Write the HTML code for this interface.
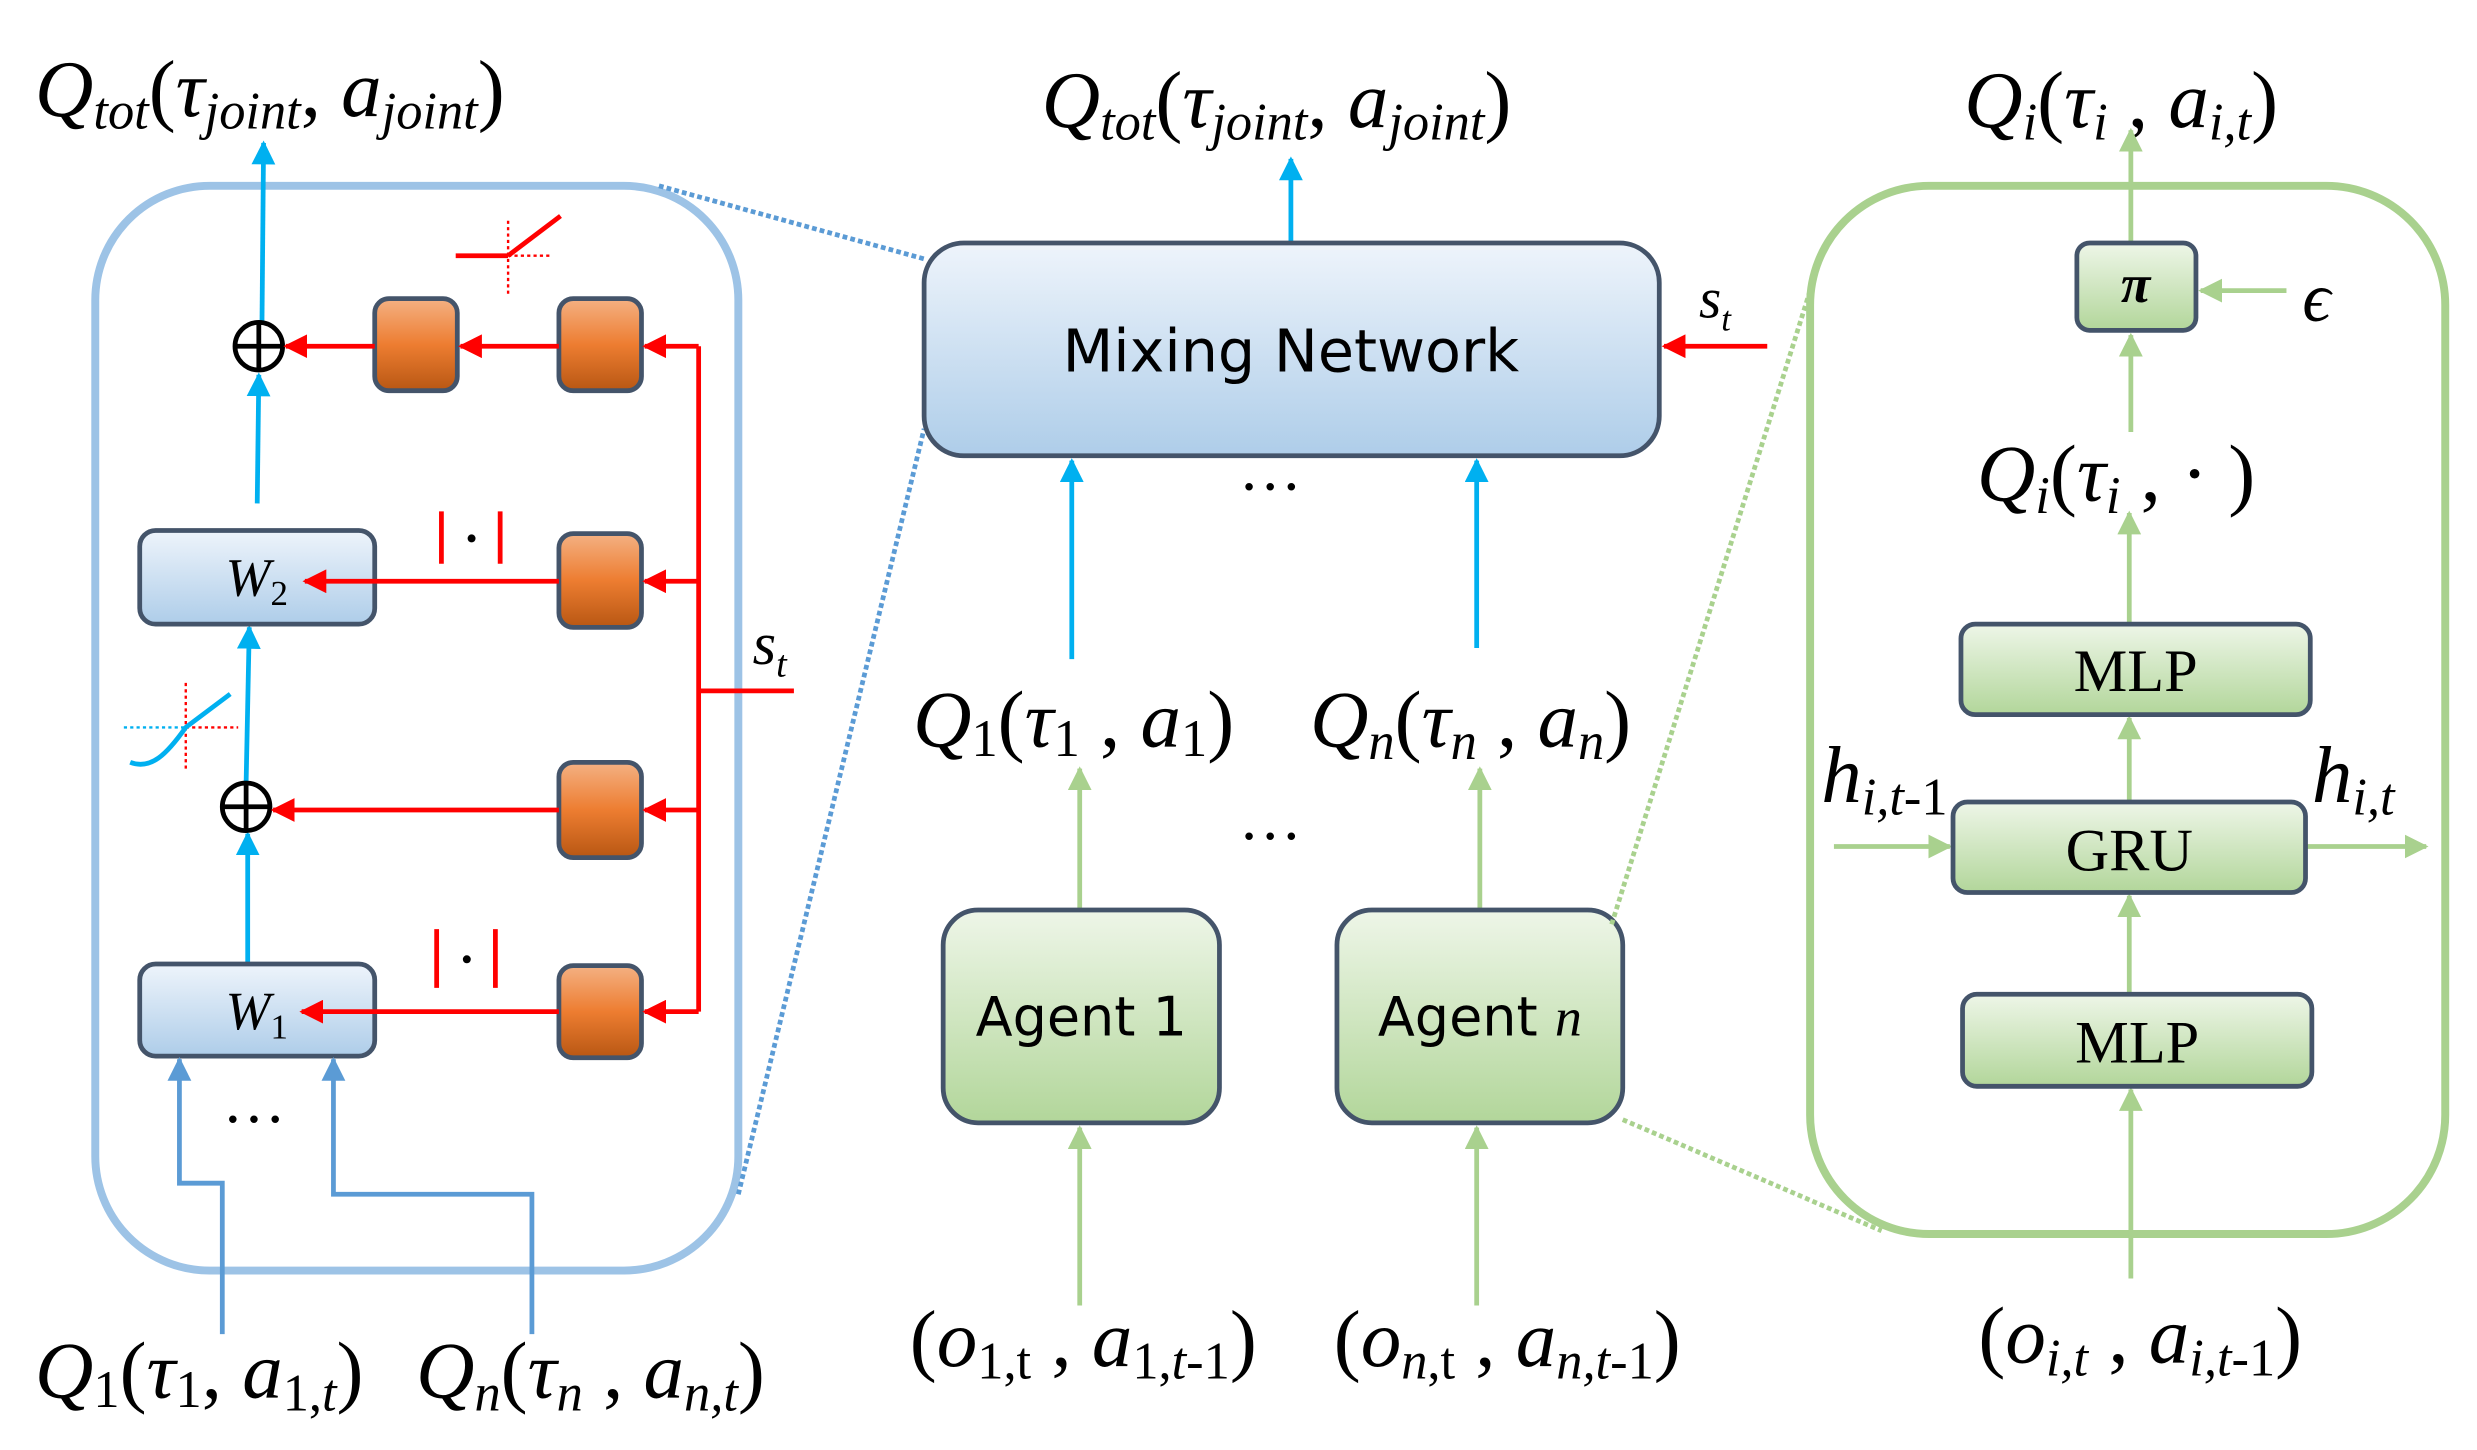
<!DOCTYPE html>
<html><head><meta charset="utf-8"><style>
html,body{margin:0;padding:0;background:#fff;}
svg{display:block;}
text{font-family:"Liberation Serif",serif;}
.m{font-style:italic;font-size:51px;}
.s{font-size:33px;}
</style></head><body>
<svg width="2477" height="1450" viewBox="0 0 1560 913" preserveAspectRatio="none" xmlns="http://www.w3.org/2000/svg">
<defs>
<linearGradient id="og" x1="0" y1="0" x2="0" y2="1"><stop offset="0" stop-color="#f4b183"/><stop offset="0.5" stop-color="#ed7d31"/><stop offset="1" stop-color="#b85713"/></linearGradient>
<linearGradient id="bg" x1="0" y1="0" x2="0" y2="1"><stop offset="0" stop-color="#eef4fb"/><stop offset="1" stop-color="#aecde9"/></linearGradient>
<linearGradient id="gg" x1="0" y1="0" x2="0" y2="1"><stop offset="0" stop-color="#eef6e8"/><stop offset="1" stop-color="#b2d69a"/></linearGradient>
<marker id="ar" viewBox="0 0 10 10" refX="9" refY="5" markerWidth="5" markerHeight="5" orient="auto"><path d="M0,0L10,5L0,10z" fill="#ff0000"/></marker>
<marker id="ab" viewBox="0 0 10 10" refX="9" refY="5" markerWidth="5" markerHeight="5" orient="auto"><path d="M0,0L10,5L0,10z" fill="#00b0f0"/></marker>
<marker id="ad" viewBox="0 0 10 10" refX="9" refY="5" markerWidth="5" markerHeight="5" orient="auto"><path d="M0,0L10,5L0,10z" fill="#5b9bd5"/></marker>
<marker id="ag" viewBox="0 0 10 10" refX="9" refY="5" markerWidth="5" markerHeight="5" orient="auto"><path d="M0,0L10,5L0,10z" fill="#a9d18e"/></marker>
</defs>

<!-- LEFT PANEL -->
<rect x="60" y="117" width="405" height="683" rx="72" fill="none" stroke="#9dc3e6" stroke-width="5"/>
<line x1="415" y1="117" x2="582" y2="163" stroke="#5b9bd5" stroke-width="3" stroke-dasharray="3,2"/>
<line x1="465" y1="752" x2="582" y2="270" stroke="#5b9bd5" stroke-width="3" stroke-dasharray="3,2"/>

<text x="22" y="73" class="m">Q<tspan class="s" dy="8">tot</tspan><tspan dy="-8" font-style="normal">(</tspan>τ<tspan class="s" dy="8">joint</tspan><tspan dy="-8" font-style="normal">, </tspan>a<tspan class="s" dy="8">joint</tspan><tspan dy="-8" font-style="normal">)</tspan></text>

<line x1="165" y1="203" x2="166" y2="90" stroke="#00b0f0" stroke-width="3" marker-end="url(#ab)"/>
<line x1="162" y1="317" x2="163" y2="236" stroke="#00b0f0" stroke-width="3" marker-end="url(#ab)"/>
<line x1="155" y1="493" x2="157" y2="395" stroke="#00b0f0" stroke-width="3" marker-end="url(#ab)"/>
<line x1="156" y1="607" x2="156" y2="525" stroke="#00b0f0" stroke-width="3" marker-end="url(#ab)"/>

<circle cx="163" cy="218" r="15" fill="#fff" stroke="#000" stroke-width="3"/>
<line x1="148" y1="218" x2="178" y2="218" stroke="#000" stroke-width="3"/><line x1="163" y1="203" x2="163" y2="233" stroke="#000" stroke-width="3"/>
<circle cx="155" cy="508" r="15" fill="#fff" stroke="#000" stroke-width="3"/>
<line x1="140" y1="508" x2="170" y2="508" stroke="#000" stroke-width="3"/><line x1="155" y1="493" x2="155" y2="523" stroke="#000" stroke-width="3"/>

<rect x="88" y="334" width="148" height="59" rx="10" fill="url(#bg)" stroke="#44546a" stroke-width="3"/>
<text x="142" y="375" class="m" style="font-size:34px">W<tspan font-style="normal" style="font-size:22px" dy="6">2</tspan></text>
<rect x="88" y="607" width="148" height="58" rx="10" fill="url(#bg)" stroke="#44546a" stroke-width="3"/>
<text x="142" y="648" class="m" style="font-size:34px">W<tspan font-style="normal" style="font-size:22px" dy="6">1</tspan></text>

<g fill="url(#og)" stroke="#44546a" stroke-width="3">
<rect x="236" y="188" width="52" height="58" rx="9"/>
<rect x="352" y="188" width="52" height="58" rx="9"/>
<rect x="352" y="336" width="52" height="59" rx="9"/>
<rect x="352" y="480" width="52" height="60" rx="9"/>
<rect x="352" y="608" width="52" height="58" rx="9"/>
</g>
<g stroke="#ff0000" stroke-width="3" fill="none">
<polyline points="440,218 440,637"/>
<line x1="440" y1="435" x2="500" y2="435"/>
<line x1="440" y1="218" x2="406" y2="218" marker-end="url(#ar)"/>
<line x1="440" y1="366" x2="406" y2="366" marker-end="url(#ar)"/>
<line x1="440" y1="510" x2="406" y2="510" marker-end="url(#ar)"/>
<line x1="440" y1="637" x2="406" y2="637" marker-end="url(#ar)"/>
<line x1="352" y1="218" x2="290" y2="218" marker-end="url(#ar)"/>
<line x1="236" y1="218" x2="180" y2="218" marker-end="url(#ar)"/>
<line x1="352" y1="366" x2="192" y2="366" marker-end="url(#ar)"/>
<line x1="352" y1="510" x2="172" y2="510" marker-end="url(#ar)"/>
<line x1="352" y1="637" x2="190" y2="637" marker-end="url(#ar)"/>
<line x1="278" y1="322" x2="278" y2="355"/><line x1="315" y1="322" x2="315" y2="355"/>
<line x1="275" y1="585" x2="275" y2="622"/><line x1="312" y1="585" x2="312" y2="622"/>
<line x1="287" y1="161" x2="320" y2="161"/><line x1="320" y1="161" x2="353" y2="136"/>
<line x1="320" y1="161" x2="348" y2="161" stroke-width="1.5" stroke-dasharray="2,2"/>
<line x1="320" y1="139" x2="320" y2="186" stroke-width="1.5" stroke-dasharray="2,2"/>
<line x1="117" y1="430" x2="117" y2="485" stroke-width="1.5" stroke-dasharray="2,2"/>
<line x1="117" y1="458" x2="150" y2="458" stroke-width="1.5" stroke-dasharray="2,2"/>
</g>
<circle cx="297" cy="339" r="2.5" fill="#000"/><circle cx="294" cy="604" r="2.5" fill="#000"/>
<line x1="78" y1="458" x2="117" y2="458" stroke="#00b0f0" stroke-width="1.5" stroke-dasharray="2,2"/>
<path d="M82,480 C95,485 105,475 117,458 L145,437" stroke="#00b0f0" stroke-width="3" fill="none"/>
<text x="474" y="418" class="m" style="font-size:38px">s<tspan class="s" style="font-size:24px" dy="8">t</tspan></text>

<polyline points="140,840 140,745 113,745 113,667" stroke="#5b9bd5" stroke-width="3" fill="none" marker-end="url(#ad)"/>
<polyline points="335,840 335,752 210,752 210,667" stroke="#5b9bd5" stroke-width="3" fill="none" marker-end="url(#ad)"/>
<text x="140" y="718" style="font-size:40px">···</text>

<text x="22" y="880" class="m">Q<tspan font-style="normal" class="s" dy="6">1</tspan><tspan dy="-6" font-style="normal">(</tspan>τ<tspan font-style="normal" class="s" dy="6">1</tspan><tspan dy="-6" font-style="normal">, </tspan>a<tspan class="s" dy="8"><tspan font-style="normal">1,</tspan>t</tspan><tspan dy="-8" font-style="normal">)</tspan></text>
<text x="262" y="880" class="m">Q<tspan class="s" dy="8">n</tspan><tspan dy="-8" font-style="normal">(</tspan>τ<tspan class="s" dy="8">n</tspan><tspan dy="-8" font-style="normal"> , </tspan>a<tspan class="s" dy="8">n,t</tspan><tspan dy="-8" font-style="normal">)</tspan></text>

<!-- MIDDLE -->
<text x="656" y="80" class="m">Q<tspan class="s" dy="8">tot</tspan><tspan dy="-8" font-style="normal">(</tspan>τ<tspan class="s" dy="8">joint</tspan><tspan dy="-8" font-style="normal">, </tspan>a<tspan class="s" dy="8">joint</tspan><tspan dy="-8" font-style="normal">)</tspan></text>
<line x1="813" y1="153" x2="813" y2="100" stroke="#00b0f0" stroke-width="3" marker-end="url(#ab)"/>
<rect x="582" y="153" width="463" height="134" rx="25" fill="url(#bg)" stroke="#44546a" stroke-width="3"/>
<text x="813" y="234" text-anchor="middle" style="font-family:'DejaVu Sans',sans-serif;font-size:37px">Mixing Network</text>
<line x1="1113" y1="218" x2="1048" y2="218" stroke="#ff0000" stroke-width="3" marker-end="url(#ar)"/>
<text x="1070" y="200" class="m" style="font-size:36px">s<tspan style="font-size:22px" dy="8">t</tspan></text>
<line x1="675" y1="415" x2="675" y2="290" stroke="#00b0f0" stroke-width="3" marker-end="url(#ab)"/>
<line x1="930" y1="408" x2="930" y2="290" stroke="#00b0f0" stroke-width="3" marker-end="url(#ab)"/>
<text x="780" y="320" style="font-size:40px">···</text>
<text x="575" y="470" class="m">Q<tspan font-style="normal" class="s" dy="6">1</tspan><tspan dy="-6" font-style="normal">(</tspan>τ<tspan font-style="normal" class="s" dy="6">1</tspan><tspan dy="-6" font-style="normal"> , </tspan>a<tspan font-style="normal" class="s" dy="6">1</tspan><tspan dy="-6" font-style="normal">)</tspan></text>
<text x="825" y="470" class="m">Q<tspan class="s" dy="8">n</tspan><tspan dy="-8" font-style="normal">(</tspan>τ<tspan class="s" dy="8">n</tspan><tspan dy="-8" font-style="normal"> , </tspan>a<tspan class="s" dy="8">n</tspan><tspan dy="-8" font-style="normal">)</tspan></text>
<line x1="680" y1="572" x2="680" y2="484" stroke="#a9d18e" stroke-width="3" marker-end="url(#ag)"/>
<line x1="932" y1="572" x2="932" y2="484" stroke="#a9d18e" stroke-width="3" marker-end="url(#ag)"/>
<text x="780" y="540" style="font-size:40px">···</text>
<rect x="594" y="573" width="174" height="134" rx="22" fill="url(#gg)" stroke="#44546a" stroke-width="3"/>
<text x="681" y="652" text-anchor="middle" style="font-family:'DejaVu Sans',sans-serif;font-size:34px">Agent 1</text>
<rect x="842" y="573" width="180" height="134" rx="22" fill="url(#gg)" stroke="#44546a" stroke-width="3"/>
<text x="932" y="652" text-anchor="middle" style="font-family:'DejaVu Sans',sans-serif;font-size:34px">Agent <tspan font-family="Liberation Serif" font-style="italic">n</tspan></text>
<line x1="680" y1="822" x2="680" y2="710" stroke="#a9d18e" stroke-width="3" marker-end="url(#ag)"/>
<line x1="930" y1="822" x2="930" y2="710" stroke="#a9d18e" stroke-width="3" marker-end="url(#ag)"/>
<text x="573" y="860" class="m"><tspan font-style="normal">(</tspan>o<tspan font-style="normal" class="s" dy="8">1,t</tspan><tspan dy="-8" font-style="normal"> , </tspan>a<tspan class="s" dy="8"><tspan font-style="normal">1,</tspan>t<tspan font-style="normal">-1</tspan></tspan><tspan dy="-8" font-style="normal">)</tspan></text>
<text x="840" y="860" class="m"><tspan font-style="normal">(</tspan>o<tspan class="s" dy="8">n<tspan font-style="normal">,t</tspan></tspan><tspan dy="-8" font-style="normal"> , </tspan>a<tspan class="s" dy="8">n,t<tspan font-style="normal">-1</tspan></tspan><tspan dy="-8" font-style="normal">)</tspan></text>
<line x1="1015" y1="582" x2="1140" y2="183" stroke="#a9d18e" stroke-width="3" stroke-dasharray="3,2"/>
<line x1="1022" y1="705" x2="1185" y2="775" stroke="#a9d18e" stroke-width="3" stroke-dasharray="3,2"/>

<!-- RIGHT PANEL -->
<rect x="1140" y="117" width="400" height="660" rx="75" fill="none" stroke="#a9d18e" stroke-width="5"/>
<text x="1237" y="80" class="m">Q<tspan class="s" dy="8">i</tspan><tspan dy="-8" font-style="normal">(</tspan>τ<tspan class="s" dy="8">i</tspan><tspan dy="-8" font-style="normal"> , </tspan>a<tspan class="s" dy="8">i,t</tspan><tspan dy="-8" font-style="normal">)</tspan></text>
<g stroke="#a9d18e" stroke-width="3" fill="none">
<line x1="1342" y1="153" x2="1342" y2="82" marker-end="url(#ag)"/>
<line x1="1342" y1="272" x2="1342" y2="211" marker-end="url(#ag)"/>
<line x1="1341" y1="393" x2="1341" y2="323" marker-end="url(#ag)"/>
<line x1="1341" y1="505" x2="1341" y2="452" marker-end="url(#ag)"/>
<line x1="1341" y1="626" x2="1341" y2="564" marker-end="url(#ag)"/>
<line x1="1342" y1="805" x2="1342" y2="686" marker-end="url(#ag)"/>
<line x1="1440" y1="183" x2="1386" y2="183" marker-end="url(#ag)"/>
<line x1="1155" y1="533" x2="1228" y2="533" marker-end="url(#ag)"/>
<line x1="1453" y1="533" x2="1528" y2="533" marker-end="url(#ag)"/>
</g>
<rect x="1308" y="153" width="75" height="55" rx="8" fill="url(#gg)" stroke="#44546a" stroke-width="3"/>
<text x="1345" y="190" text-anchor="middle" class="m" style="font-size:34px;font-weight:bold">π</text>
<text x="1450" y="202" class="m" style="font-size:44px">ϵ</text>
<text x="1245" y="315" class="m">Q<tspan class="s" dy="8">i</tspan><tspan dy="-8" font-style="normal">(</tspan>τ<tspan class="s" dy="8">i</tspan><tspan dy="-8" font-style="normal"> ,  · )</tspan></text>
<rect x="1235" y="393" width="220" height="57" rx="9" fill="url(#gg)" stroke="#44546a" stroke-width="3"/>
<text x="1345" y="435" text-anchor="middle" style="font-size:38px">MLP</text>
<rect x="1230" y="505" width="222" height="57" rx="9" fill="url(#gg)" stroke="#44546a" stroke-width="3"/>
<text x="1341" y="548" text-anchor="middle" style="font-size:38px">GRU</text>
<rect x="1236" y="626" width="220" height="58" rx="9" fill="url(#gg)" stroke="#44546a" stroke-width="3"/>
<text x="1346" y="669" text-anchor="middle" style="font-size:38px">MLP</text>
<text x="1147" y="505" class="m">h<tspan class="s" dy="8">i,t<tspan font-style="normal">-1</tspan></tspan></text>
<text x="1456" y="505" class="m">h<tspan class="s" dy="8">i,t</tspan></text>
<text x="1246" y="858" class="m"><tspan font-style="normal">(</tspan>o<tspan class="s" dy="8">i,t</tspan><tspan dy="-8" font-style="normal"> , </tspan>a<tspan class="s" dy="8">i,t<tspan font-style="normal">-1</tspan></tspan><tspan dy="-8" font-style="normal">)</tspan></text>
</svg>
</body></html>
